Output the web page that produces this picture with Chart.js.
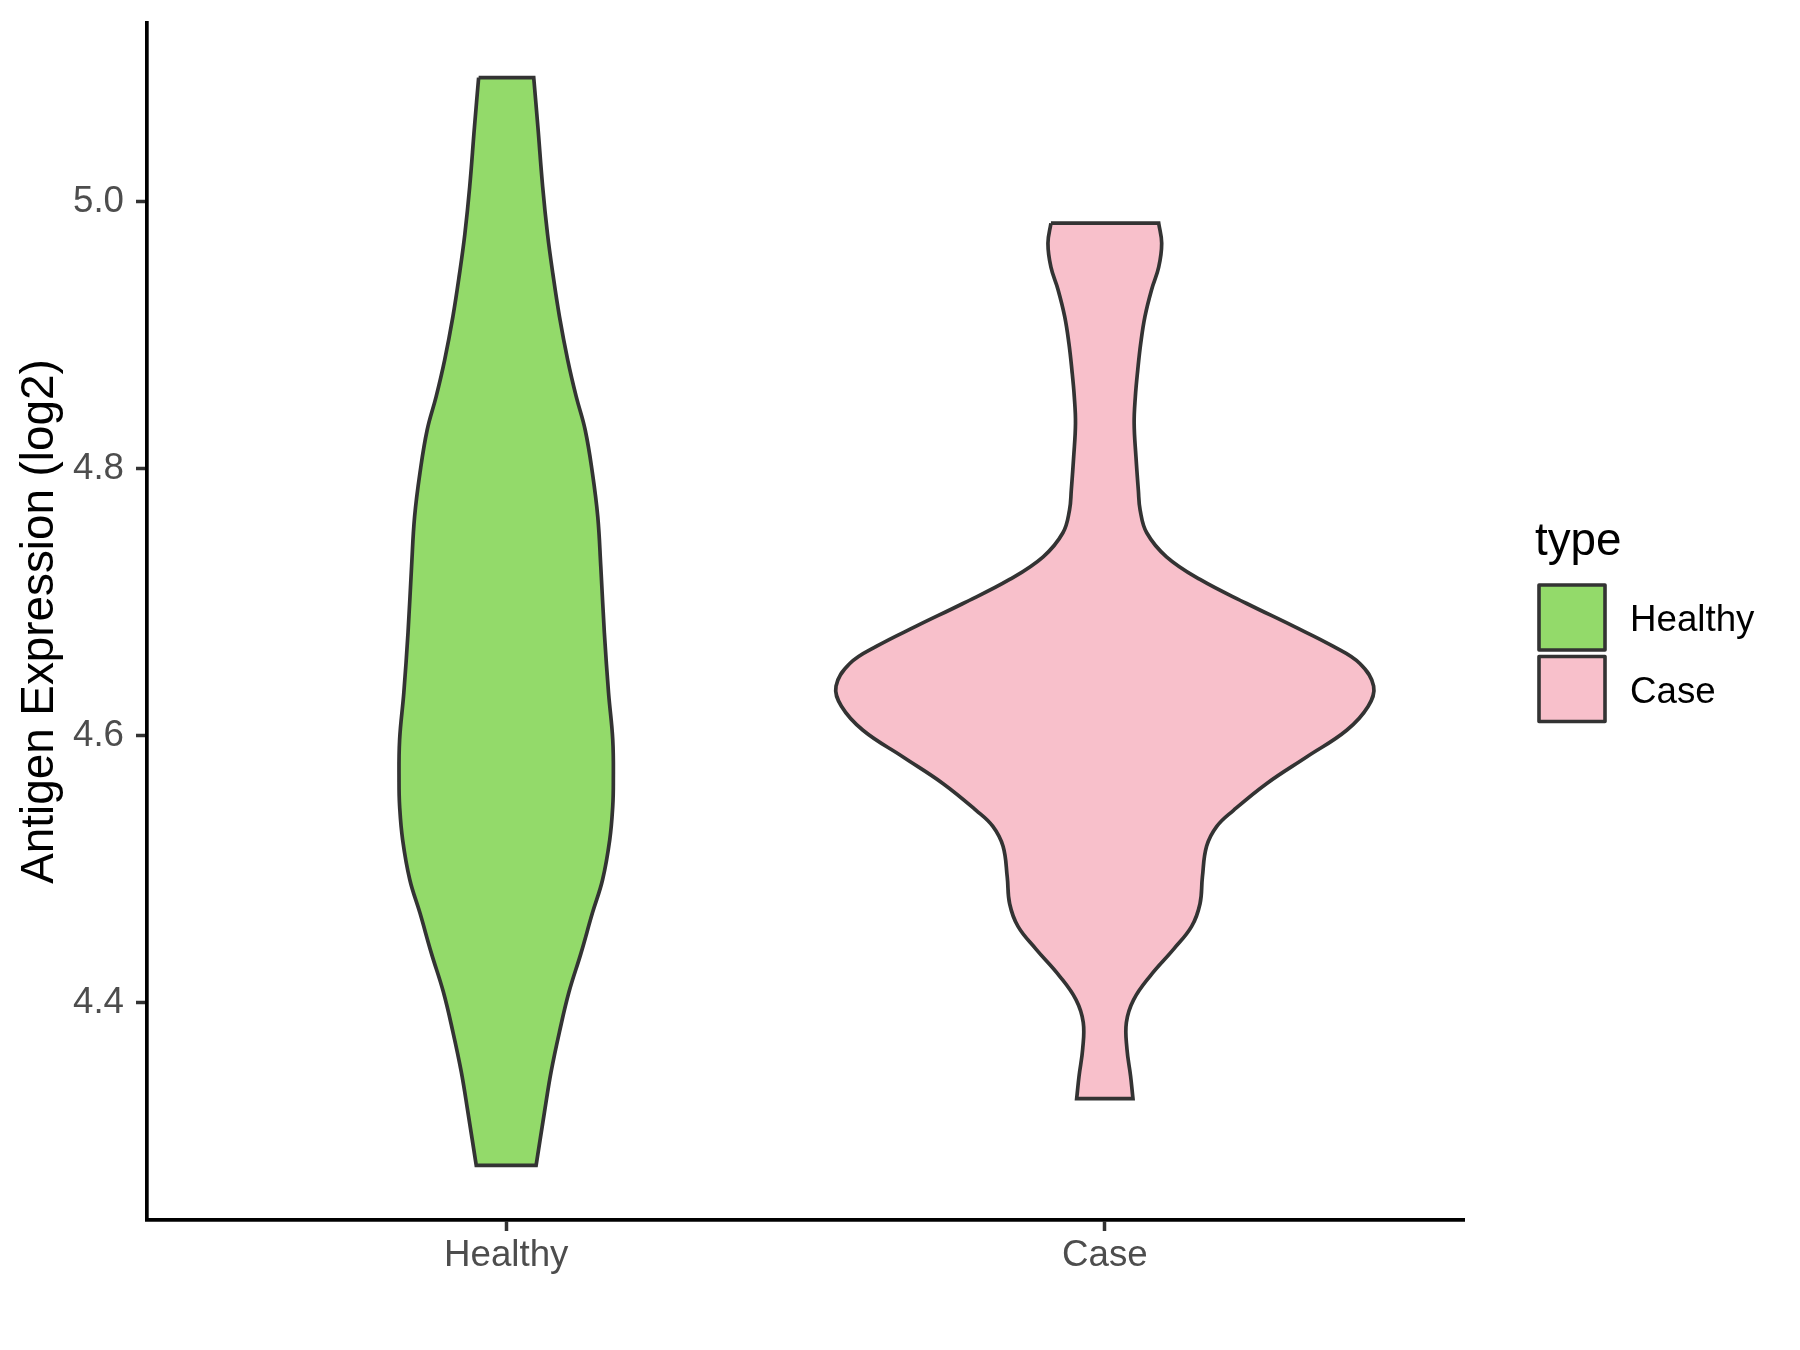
<!DOCTYPE html>
<html>
<head>
<meta charset="utf-8">
<script src="https://cdn.jsdelivr.net/npm/chart.js@4.4.1/dist/chart.umd.min.js"></script>
<style>
  html, body { margin: 0; padding: 0; background: #fff; }
  #wrap { width: 1800px; height: 1350px; }
</style>
</head>
<body>
<div id="wrap"><canvas id="chart" width="1800" height="1350"></canvas></div>
<script>
const FONT = '"Liberation Sans", Arial, sans-serif';

const categories = ['Healthy', 'Case'];
const yTicks = [4.4, 4.6, 4.8, 5.0];

// violin outlines, top to bottom: value (log2) and half width (x units)
const healthyValues = [5.093, 5.056, 5.011, 4.976, 4.946, 4.914, 4.881, 4.854, 4.829, 4.797,
                       4.764, 4.727, 4.677, 4.632, 4.597, 4.565, 4.547, 4.522, 4.492, 4.467,
                       4.437, 4.408, 4.378, 4.348, 4.318, 4.278];
const healthyWidths = [0.046, 0.053, 0.061, 0.069, 0.078, 0.089, 0.103, 0.117, 0.132, 0.144,
                       0.153, 0.158, 0.164, 0.171, 0.178, 0.179, 0.178, 0.173, 0.161, 0.144,
                       0.125, 0.105, 0.089, 0.075, 0.064, 0.050];

const caseValues = [4.984, 4.969, 4.951, 4.934, 4.914, 4.894, 4.874, 4.854, 4.834, 4.809,
                    4.784, 4.769, 4.752, 4.734, 4.717, 4.699, 4.682, 4.667, 4.654, 4.637,
                    4.622, 4.604, 4.584, 4.564, 4.544, 4.532, 4.517, 4.494, 4.474, 4.457,
                    4.440, 4.420, 4.402, 4.385, 4.365, 4.345, 4.328];
const caseWidths = [0.090, 0.095, 0.090, 0.078, 0.067, 0.060, 0.055, 0.051, 0.049, 0.052,
                    0.056, 0.059, 0.070, 0.103, 0.159, 0.237, 0.315, 0.381, 0.426, 0.449,
                    0.440, 0.404, 0.337, 0.270, 0.215, 0.187, 0.170, 0.163, 0.159, 0.145,
                    0.115, 0.076, 0.048, 0.036, 0.037, 0.043, 0.047];

const fillColors = ['#93DA6A', '#F8C0CB'];

// closed path: top edge, right side down, bottom edge, left side up
// corner points doubled so the flat ends stay straight
function outline(center, values, widths) {
  const n = values.length;
  const right = values.map((v, i) => ({ x: center + widths[i], y: v }));
  const left = values.map((v, i) => ({ x: center - widths[i], y: v })).reverse();
  return [left[n - 1], right[0], right[0], ...right.slice(1, n - 1), right[n - 1], right[n - 1],
          left[0], left[0], ...left.slice(1, n - 1), left[n - 1], left[n - 1]];
}

const violins = [
  { values: healthyValues, widths: healthyWidths },
  { values: caseValues, widths: caseWidths }
];

// legend drawn by hand, ggplot style
const typeLegend = {
  id: 'typeLegend',
  afterDraw(chart) {
    const { ctx, chartArea } = chart;
    const x0 = chartArea.right + 75;
    ctx.save();
    ctx.textBaseline = 'alphabetic';
    ctx.fillStyle = '#000';
    ctx.font = '45.8px ' + FONT;
    ctx.fillText('type', x0 - 4, 555);
    chart.data.datasets.forEach((ds, i) => {
      const y = 585 + i * 71.5;
      ctx.fillStyle = ds.backgroundColor;
      ctx.fillRect(x0, y, 66, 65);
      ctx.lineWidth = 3.6;
      ctx.lineJoin = 'round';
      ctx.strokeStyle = ds.borderColor;
      ctx.strokeRect(x0, y, 66, 65);
      ctx.fillStyle = '#000';
      ctx.font = '36.7px ' + FONT;
      ctx.fillText(ds.label, x0 + 91, y + 46);
    });
    ctx.restore();
  }
};

new Chart(document.getElementById('chart'), {
  type: 'scatter',
  data: {
    datasets: violins.map((v, i) => ({
      label: categories[i],
      data: outline(i + 1, v.values, v.widths),
      showLine: true,
      fill: 'shape',
      backgroundColor: fillColors[i],
      borderColor: '#333333',
      borderWidth: 3.7,
      borderJoinStyle: 'miter',
      pointRadius: 0,
      tension: 0.4
    }))
  },
  options: {
    responsive: false,
    animation: false,
    events: [],
    layout: { padding: { top: 23, right: 336, left: 0, bottom: 0 } },
    plugins: {
      legend: { display: false },
      tooltip: { enabled: false }
    },
    scales: {
      x: {
        type: 'linear',
        min: 0.4,
        max: 2.6,
        afterBuildTicks: s => { s.ticks = categories.map((c, i) => ({ value: i + 1 })); },
        afterFit: s => { s.height = 130; s.paddingLeft = 0; s.paddingRight = 0; },
        ticks: {
          callback: (v, i) => categories[i],
          font: { family: FONT, size: 36.7 },
          color: '#4D4D4D',
          padding: 3,
          maxRotation: 0,
          autoSkip: false
        },
        grid: { drawOnChartArea: false, drawTicks: true, tickLength: 11, tickWidth: 3.5, tickColor: '#333333' },
        border: { display: true, color: '#000', width: 3.7 }
      },
      y: {
        min: 4.237,
        max: 5.134,
        afterBuildTicks: s => { s.ticks = yTicks.map(v => ({ value: v })); },
        afterFit: s => { s.width = 147; s.paddingTop = 0; s.paddingBottom = 0; },
        ticks: {
          callback: v => v.toFixed(1),
          font: { family: FONT, size: 36.7 },
          color: '#4D4D4D',
          padding: 12
        },
        grid: { drawOnChartArea: false, drawTicks: true, tickLength: 11, tickWidth: 3.5, tickColor: '#333333' },
        border: { display: true, color: '#000', width: 3.7 },
        title: {
          display: true,
          text: 'Antigen Expression (log2)',
          font: { family: FONT, size: 45.8 },
          color: '#000',
          padding: { top: 12.5, bottom: 0 }
        }
      }
    }
  },
  plugins: [typeLegend]
});
</script>
</body>
</html>
